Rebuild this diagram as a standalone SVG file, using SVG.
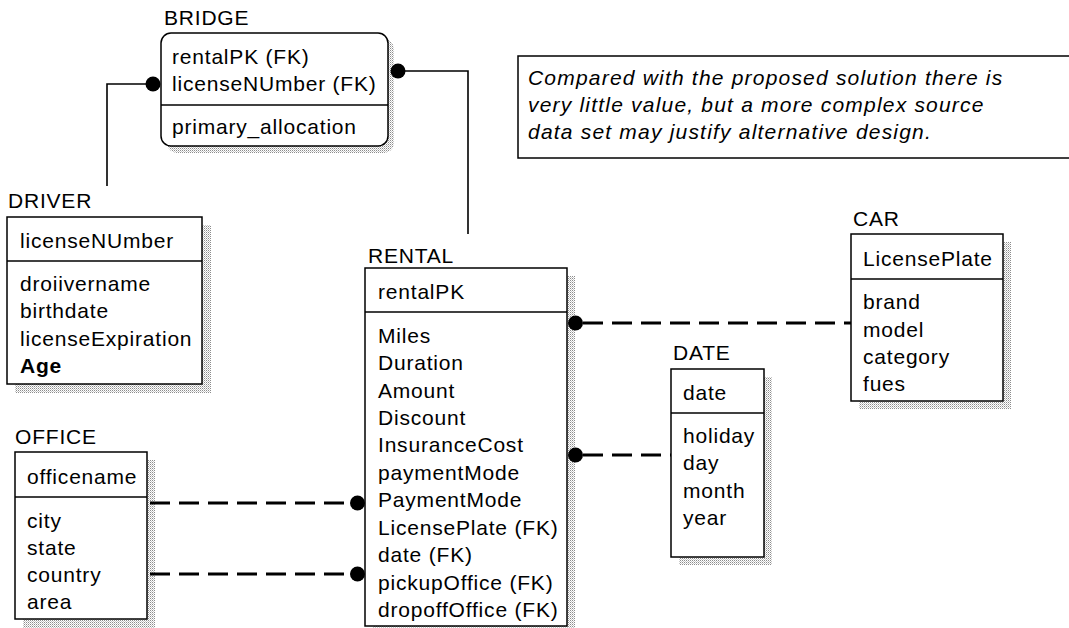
<svg xmlns="http://www.w3.org/2000/svg" width="1069" height="628" viewBox="0 0 1069 628">
  <defs>
    <!-- stippled drop shadow used behind every entity box -->
    <pattern id="stipple" width="2" height="2" patternUnits="userSpaceOnUse">
      <rect x="0" y="0" width="1" height="1" fill="#8c8c8c"/>
      <rect x="1" y="1" width="1" height="1" fill="#c8c8c8"/>
    </pattern>
  </defs>
  <style>
    text { font-family: "Liberation Sans", Arial, sans-serif; font-size: 21px; fill: #000; letter-spacing: 0.8px; }
    .box { fill: #fff; stroke: #000; stroke-width: 1.5; }
    .shadow { fill: url(#stipple); }
    .div { stroke: #000; stroke-width: 1.5; }
    .rel { fill: none; stroke: #000; stroke-width: 1.6; }
    .dash { fill: none; stroke: #000; stroke-width: 3.2; stroke-dasharray: 20 9; }
    .dot { fill: #000; }
    .note { font-style: italic; letter-spacing: 1.2px; }
    .bold { font-weight: bold; }
  </style>

  <rect width="1069" height="628" fill="#fff"/>

  <!-- annotation -->
  <g id="note">
    <rect x="518" y="56" width="560" height="102" fill="#fff" stroke="#000" stroke-width="1.5"/>
    <text class="note" x="528" y="85">Compared with the proposed solution there is</text>
    <text class="note" x="528" y="112">very little value, but a more complex source</text>
    <text class="note" x="528" y="139">data set may justify alternative design.</text>
  </g>

  <!-- BRIDGE -->
  <g id="bridge">
    <text x="164" y="25">BRIDGE</text>
    <rect class="shadow" x="167" y="39" width="227" height="114" rx="10"/>
    <rect class="box" x="161" y="33" width="227" height="113" rx="10"/>
    <line class="div" x1="161" y1="105" x2="388" y2="105"/>
    <text x="172" y="64">rentalPK (FK)</text>
    <text x="172" y="91">licenseNUmber (FK)</text>
    <text x="172" y="134">primary_allocation</text>
  </g>

  <!-- DRIVER -->
  <g id="driver">
    <text x="8" y="208">DRIVER</text>
    <rect class="shadow" x="15" y="225" width="196" height="168"/>
    <rect class="box" x="7" y="217" width="195" height="167"/>
    <line class="div" x1="7" y1="261" x2="202" y2="261"/>
    <text x="20" y="248">licenseNUmber</text>
    <text x="20" y="291">droiivername</text>
    <text x="20" y="318">birthdate</text>
    <text x="20" y="346">licenseExpiration</text>
    <text x="20" y="373" class="bold">Age</text>
  </g>

  <!-- OFFICE -->
  <g id="office">
    <text x="15" y="444">OFFICE</text>
    <rect class="shadow" x="23" y="460" width="132" height="168"/>
    <rect class="box" x="15" y="452" width="132" height="167"/>
    <line class="div" x1="15" y1="497" x2="147" y2="497"/>
    <text x="27" y="484">officename</text>
    <text x="27" y="528">city</text>
    <text x="27" y="555">state</text>
    <text x="27" y="582">country</text>
    <text x="27" y="609">area</text>
  </g>

  <!-- RENTAL -->
  <g id="rental">
    <text x="368" y="263">RENTAL</text>
    <rect class="shadow" x="373" y="276" width="202" height="360"/>
    <rect class="box" x="365" y="268" width="202" height="358"/>
    <line class="div" x1="365" y1="312" x2="567" y2="312"/>
    <text x="378" y="299">rentalPK</text>
    <text x="378" y="343">Miles</text>
    <text x="378" y="370">Duration</text>
    <text x="378" y="398">Amount</text>
    <text x="378" y="425">Discount</text>
    <text x="378" y="452">InsuranceCost</text>
    <text x="378" y="480">paymentMode</text>
    <text x="378" y="507">PaymentMode</text>
    <text x="378" y="535">LicensePlate (FK)</text>
    <text x="378" y="562">date (FK)</text>
    <text x="378" y="590">pickupOffice (FK)</text>
    <text x="378" y="617">dropoffOffice (FK)</text>
  </g>

  <!-- DATE -->
  <g id="date">
    <text x="673" y="360">DATE</text>
    <rect class="shadow" x="679" y="377" width="93" height="188"/>
    <rect class="box" x="671" y="369" width="93" height="188"/>
    <line class="div" x1="671" y1="413" x2="764" y2="413"/>
    <text x="683" y="400">date</text>
    <text x="683" y="443">holiday</text>
    <text x="683" y="470">day</text>
    <text x="683" y="498">month</text>
    <text x="683" y="525">year</text>
  </g>

  <!-- CAR -->
  <g id="car">
    <text x="853" y="226">CAR</text>
    <rect class="shadow" x="859" y="242" width="152" height="167"/>
    <rect class="box" x="851" y="234" width="152" height="167"/>
    <line class="div" x1="851" y1="279" x2="1003" y2="279"/>
    <text x="863" y="266">LicensePlate</text>
    <text x="863" y="309">brand</text>
    <text x="863" y="337">model</text>
    <text x="863" y="364">category</text>
    <text x="863" y="391">fues</text>
  </g>

  <!-- relationships -->
  <g id="connectors">
    <polyline class="rel" points="107,186 107,84 153,84"/>
    <circle class="dot" cx="153" cy="84" r="7.5"/>
    <polyline class="rel" points="398,71 468,71 468,234"/>
    <circle class="dot" cx="398" cy="71" r="7.5"/>

    <line class="dash" x1="583" y1="323" x2="851" y2="323"/>
    <circle class="dot" cx="575.5" cy="323" r="7.5"/>
    <line class="dash" x1="583" y1="455" x2="671" y2="455"/>
    <circle class="dot" cx="575.5" cy="455" r="7.5"/>

    <line class="dash" x1="150" y1="503" x2="350" y2="503"/>
    <circle class="dot" cx="357.5" cy="503" r="7.5"/>
    <line class="dash" x1="150" y1="574" x2="350" y2="574"/>
    <circle class="dot" cx="357.5" cy="574" r="7.5"/>
  </g>
</svg>
